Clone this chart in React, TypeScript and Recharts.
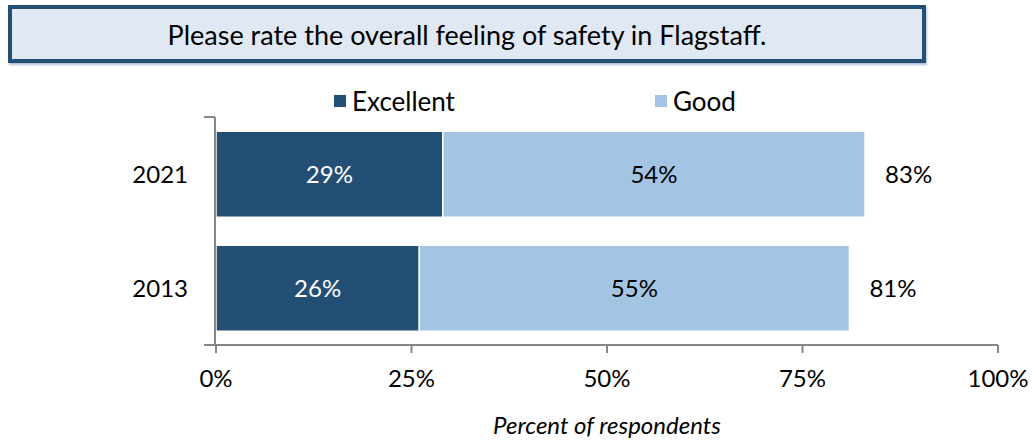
import React from 'react';
import { BarChart, Bar, XAxis, YAxis, LabelList } from 'recharts';

const years = ['2021', '2013'];
const excellent = [29, 26];
const good = [54, 55];
const totals = [83, 81];
const xTicks = [0, 25, 50, 75, 100];
const title = 'Please rate the overall feeling of safety in Flagstaff.';
const axisTitle = 'Percent of respondents';
const seriesNames = ['Excellent', 'Good'];

const DARK = '#244f74';
const LIGHT = '#a3c4e2';
const FONT = 'Lato, "Open Sans", sans-serif';

const data = years.map((y, i) => ({
  year: y,
  excellent: excellent[i],
  good: good[i],
  total: totals[i],
}));

export default function App() {
  return (
    <div style={{ position: 'absolute', left: 0, top: 0, width: 1032, height: 440, background: '#fff', fontFamily: FONT }}>
      <div
        style={{
          position: 'absolute',
          left: 8,
          top: 5,
          width: 918,
          height: 58,
          boxSizing: 'border-box',
          border: `4px solid ${DARK}`,
          background: '#dfe8f3',
          display: 'flex',
          alignItems: 'center',
          justifyContent: 'center',
          fontSize: 27,
          color: '#000',
          boxShadow: '1px 2px 2px rgba(120,150,190,0.6)',
        }}
      >
        {title}
      </div>
      <div
        style={{
          position: 'absolute',
          top: 86,
          left: 334,
          display: 'flex',
          fontSize: 26,
          color: '#000',
          lineHeight: '30px',
        }}
      >
        {seriesNames.map((n, i) => (
          <div key={n} style={{ display: 'flex', alignItems: 'center', width: i === 0 ? 321 : 200 }}>
            <span style={{ display: 'inline-block', width: 12, height: 12, background: i === 0 ? DARK : LIGHT, marginRight: 6 }} />
            <span>{n}</span>
          </div>
        ))}
      </div>
      <div style={{ position: 'absolute', left: 0, top: 0 }}>
        <BarChart
          width={1032}
          height={440}
          data={data}
          layout="vertical"
          margin={{ top: 117, right: 34, bottom: 5, left: 214 }}
          barCategoryGap="12.5%"
        >
          <XAxis
            type="number"
            domain={[0, 100]}
            ticks={xTicks}
            tickFormatter={(v: number) => `${v}%`}
            height={90}
            tickSize={8}
            tickMargin={17}
            axisLine={{ stroke: '#868686', strokeWidth: 2 }}
            tickLine={{ stroke: '#868686', strokeWidth: 2 }}
            tick={{ fill: '#000', fontSize: 24, fontFamily: FONT }}
            label={{ value: axisTitle, position: 'insideBottom', offset: 1, fill: '#000', fontSize: 24, fontStyle: 'italic', fontFamily: FONT }}
          />
          <YAxis
            type="category"
            dataKey="year"
            width={1}
            axisLine={false}
            tickLine={false}
            tickMargin={22}
            tick={{ fill: '#000', fontSize: 24, fontFamily: FONT }}
          />
          <YAxis
            yAxisId="frame"
            type="number"
            domain={[0, 2]}
            ticks={[0, 1, 2]}
            interval={0}
            width={1}
            tickSize={11}
            tickFormatter={() => ' '}
            axisLine={{ stroke: '#868686', strokeWidth: 2 }}
            tickLine={{ stroke: '#868686', strokeWidth: 2 }}
          />
          <Bar dataKey="excellent" stackId="a" fill={DARK} stroke="#fff" strokeWidth={1.5} isAnimationActive={false}>
            <LabelList dataKey="excellent" position="center" formatter={(v: number) => `${v}%`} fill="#fff" fontSize={24} fontFamily={FONT} />
          </Bar>
          <Bar dataKey="good" stackId="a" fill={LIGHT} stroke="#fff" strokeWidth={1.5} isAnimationActive={false}>
            <LabelList dataKey="good" position="center" formatter={(v: number) => `${v}%`} fill="#000" fontSize={24} fontFamily={FONT} />
            <LabelList dataKey="total" position="right" offset={20} formatter={(v: number) => `${v}%`} fill="#000" fontSize={24} fontFamily={FONT} />
          </Bar>
        </BarChart>
      </div>
    </div>
  );
}
